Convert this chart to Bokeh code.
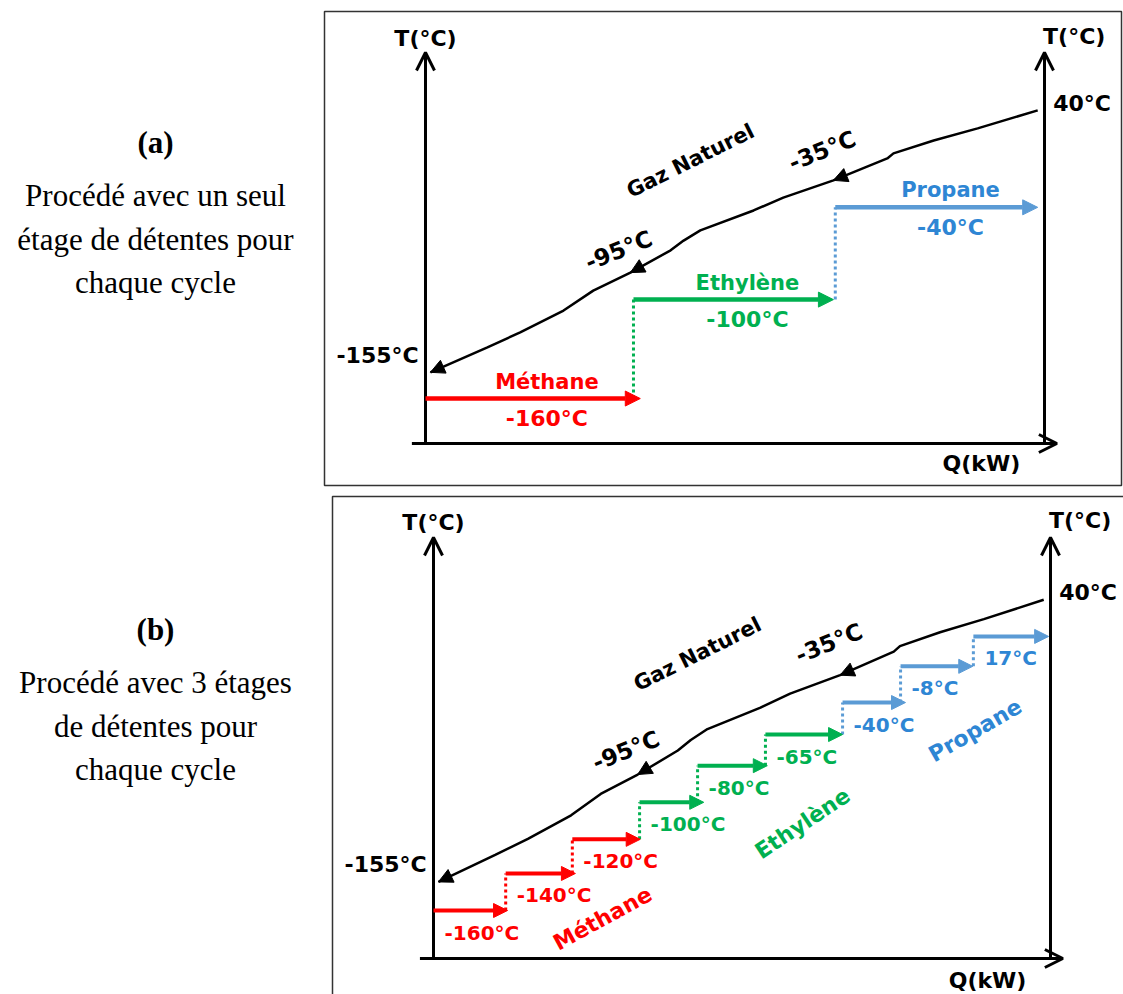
import numpy as np
from bokeh.plotting import figure
from bokeh.models import Range1d, ColumnDataSource, Arrow, NormalHead, OpenHead
from bokeh.core.properties import value
from bokeh.embed import file_html
from bokeh.resources import INLINE

# ------------------------------------------------------------------
# DATA  (schematic units: Q = 0..100 between the two T axes,
#        level = 0..100 from the Q axis up to the tip of the T axis)
# ------------------------------------------------------------------
# natural-gas cooling curve (from 40°C down to -155°C)
gas_q = [98.9, 89.2, 82.1, 75.6, 74.6, 65.9, 57.8, 53.0, 44.4, 41.7,
         39.6, 33.1, 27.1, 22.3, 15.3, 10.0, 0.8]
gas_level = [85.2, 80.6, 77.5, 74.2, 72.9, 67.3, 62.9, 59.6, 54.5, 51.9,
             49.4, 43.7, 39.1, 34.0, 28.4, 24.6, 18.2]
gas_arrow_q = [65.9, 33.1, 0.8]
gas_name = "Gaz Naturel"
gas_inlet = "40°C"
gas_outlet = "-155°C"
gas_marks = ["-35°C", "-95°C"]

cycles = ["Méthane", "Ethylène", "Propane"]

# (a) one expansion stage per cycle
a_cycle = [0, 1, 2]
a_temp = ["-160°C", "-100°C", "-40°C"]
a_q0 = [0.0, 33.6, 66.2]
a_q1 = [34.7, 65.9, 98.9]
a_level = [11.5, 36.8, 60.4]

# (b) three expansion stages per cycle
b_cycle = [0, 0, 0, 1, 1, 1, 2, 2, 2]
b_temp = ["-160°C", "-140°C", "-120°C", "-100°C", "-80°C", "-65°C",
          "-40°C", "-8°C", "17°C"]
b_q0 = [0.0, 11.7, 22.5, 33.4, 42.8, 53.8, 66.3, 75.7, 87.5]
b_q1 = [12.0, 23.0, 33.5, 43.8, 54.1, 66.3, 76.5, 87.4, 99.7]
b_level = [11.4, 20.2, 28.3, 37.1, 45.8, 53.2, 60.8, 69.4, 76.5]

caption_a = ["(a)", "Procédé avec un seul", "étage de détentes pour", "chaque cycle"]
caption_b = ["(b)", "Procédé avec 3 étages", "de détentes pour", "chaque cycle"]

# ------------------------------------------------------------------
# STYLE / LAYOUT
# ------------------------------------------------------------------
line_colors = ["#FF0000", "#00B050", "#5B9BD5"]
text_colors = ["#FF0000", "#00B050", "#2E86D4"]
SANS = value("DejaVu Sans")
SERIF = value("Liberation Serif")

W, H = 1123, 994
p = figure(width=W, height=H, x_range=Range1d(0, W), y_range=Range1d(H, 0),
           output_backend="svg", toolbar_location=None, min_border=0,
           x_axis_location=None, y_axis_location=None)
p.grid.visible = False
p.outline_line_color = None
p.background_fill_color = "white"
p.border_fill_color = "white"

# panel placement: page pixel of (Q=0, level=0) and of (Q=100, level=100)
panels = {"a": ((425, 443), (1044, 52)), "b": ((433, 958), (1050, 537))}
xr, yr = {}, {}
for k, ((x0, y0), (x1, y1)) in panels.items():
    sx = (x1 - x0) / 100.0
    sy = (y0 - y1) / 100.0
    xr["q" + k] = Range1d((0 - x0) / sx, (W - x0) / sx)
    yr["t" + k] = Range1d((y0 - H) / sy, (y0 - 0) / sy)
p.extra_x_ranges = xr
p.extra_y_ranges = yr

# panel frames (page pixels)
p.quad(left=[324], right=[1121], top=[11], bottom=[485], fill_color=None,
       line_color="#333333", line_width=1.5)
p.quad(left=[332], right=[1140], top=[496], bottom=[1010], fill_color=None,
       line_color="#333333", line_width=1.5)

# captions on the left
for lines, dy in ((caption_a, 0), (caption_b, 487)):
    ys = [142 + dy, 195 + dy, 239 + dy, 282 + dy]
    p.text(x=[155], y=[ys[0]], text=[lines[0]], text_font=SERIF, text_font_style="bold",
           text_font_size="31px", text_align="center", text_baseline="alphabetic",
           text_color="black")
    p.text(x=[155] * 3, y=ys[1:], text=lines[1:], text_font=SERIF,
           text_font_size="31px", text_align="center", text_baseline="alphabetic",
           text_color="black")

# gas curve helper
gq_inc = np.array(gas_q[::-1])
gl_inc = np.array(gas_level[::-1])


def lbl(x, y, t, xn, yn, size, color="black", style="bold", align="center",
        angle=0.0, xo=0, yo=0, baseline="middle"):
    p.text(x=x, y=y, text=t, x_range_name=xn, y_range_name=yn,
           text_font=SANS, text_font_style=style, text_font_size=size,
           text_color=color, text_align=align, text_baseline=baseline,
           angle=angle, angle_units="deg", x_offset=xo, y_offset=yo)


def draw_panel(k, q0, q1, lev, cyc, temps, single):
    xn, yn = "q" + k, "t" + k
    # axes with open arrow heads
    for xs, ys, xe, ye in ((0, 0, 0, 100), (100, 0, 100, 100), (-2.2, 0, 102, 0)):
        p.add_layout(Arrow(end=OpenHead(size=18, line_width=3, line_color="black"),
                           x_start=xs, y_start=ys, x_end=xe, y_end=ye,
                           line_width=3, line_color="black",
                           x_range_name=xn, y_range_name=yn))
    lbl([0], [103.6], ["T(°C)"], xn, yn, "22px")
    lbl([104.8], [104.0], ["T(°C)"], xn, yn, "22px")
    lbl([89.8], [-5.2], ["Q(kW)"], xn, yn, "22px")
    lbl([101.4], [87.0], [gas_inlet], xn, yn, "22px", align="left")
    lbl([-1.1], [22.4], [gas_outlet], xn, yn, "22px", align="right")

    # natural gas curve
    p.line(gas_q, gas_level, line_width=2.5, line_color="black",
           x_range_name=xn, y_range_name=yn)
    for aq in gas_arrow_q:
        qs = aq + 2.5
        p.add_layout(Arrow(end=NormalHead(size=14, fill_color="black", line_color="black"),
                           x_start=qs, y_start=float(np.interp(qs, gq_inc, gl_inc)),
                           x_end=aq, y_end=float(np.interp(aq, gq_inc, gl_inc)),
                           line_alpha=0, x_range_name=xn, y_range_name=yn))
    lbl([42.8], [72.3], [gas_name], xn, yn, "21px", angle=26.5)
    lbl([64.1], [74.9], [gas_marks[0]], xn, yn, "23px", angle=22)
    lbl([31.2], [49.4], [gas_marks[1]], xn, yn, "23px", angle=22)

    # dotted connectors between stages
    cx = [q0[i] for i in range(1, len(q0))]
    cy0 = [lev[i - 1] for i in range(1, len(q0))]
    cy1 = [lev[i] for i in range(1, len(q0))]
    cc = [line_colors[cyc[i]] for i in range(1, len(q0))]
    p.segment(x0=cx, y0=cy0, x1=cx, y1=cy1, line_color=cc, line_width=3,
              line_dash="3 3", x_range_name=xn, y_range_name=yn)

    # refrigerant stage arrows
    for c in range(3):
        idx = [i for i in range(len(q0)) if cyc[i] == c]
        src = ColumnDataSource(dict(q0=[q0[i] for i in idx], q1=[q1[i] for i in idx],
                                    lev=[lev[i] for i in idx]))
        col = line_colors[c]
        p.add_layout(Arrow(end=NormalHead(size=15 if single else 14, fill_color=col,
                                          line_color=col, line_width=1),
                           source=src, x_start="q0", y_start="lev", x_end="q1", y_end="lev",
                           line_color=col, line_width=4.5 if single else 4,
                           x_range_name=xn, y_range_name=yn))
        if single:
            mids = [(q0[i] + q1[i]) / 2 for i in idx]
            lbl(mids, [lev[i] for i in idx], [cycles[c]], xn, yn, "21px",
                color=text_colors[c], xo=14, yo=-17)
            lbl(mids, [lev[i] for i in idx], [temps[i] for i in idx], xn, yn, "22px",
                color=text_colors[c], xo=14, yo=20)
        else:
            lbl([q0[i] for i in idx], [lev[i] for i in idx], [temps[i] for i in idx],
                xn, yn, "20px", color=text_colors[c], align="left", xo=11, yo=22)


draw_panel("a", a_q0, a_q1, a_level, a_cycle, a_temp, True)
draw_panel("b", b_q0, b_q1, b_level, b_cycle, b_temp, False)

# rotated cycle names in (b)
for c, (q, l, ang) in enumerate(((27.4, 9.5, 28.5), (59.8, 32.1, 33.7), (87.8, 54.2, 30.0))):
    lbl([q], [l], [cycles[c]], "qb", "tb", "22px", color=text_colors[c], angle=ang)

open("out.html", "w").write(file_html(p, INLINE))
